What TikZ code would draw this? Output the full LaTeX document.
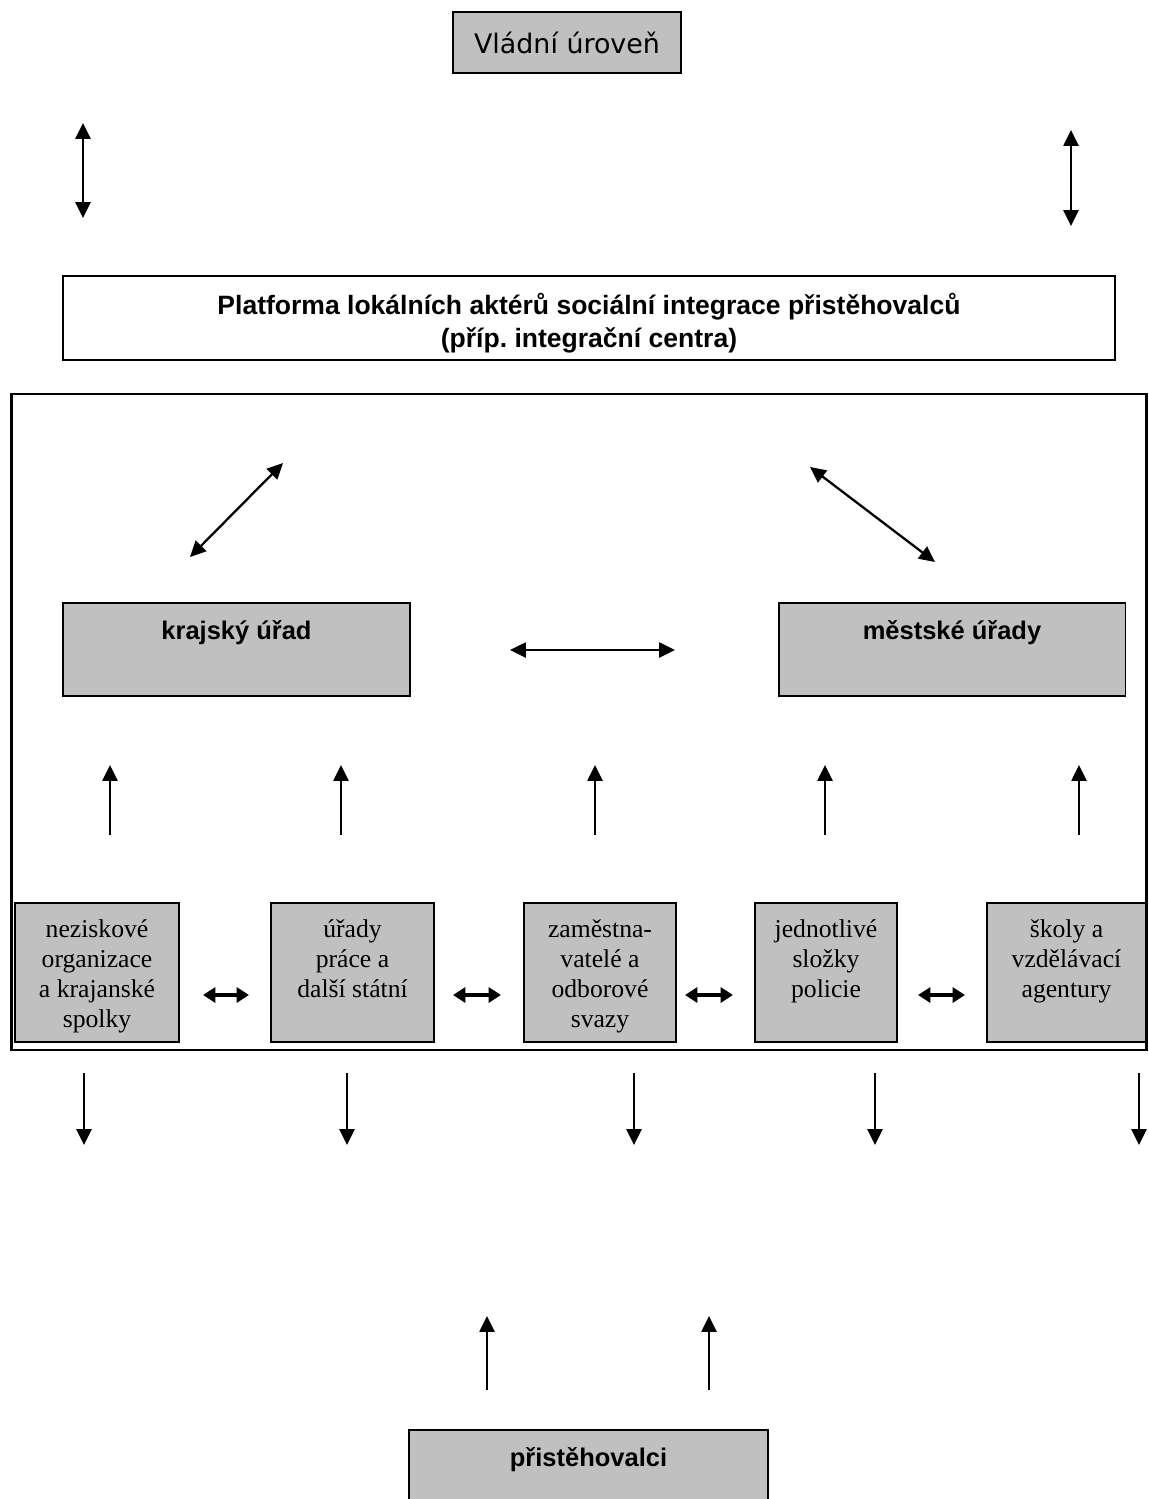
\documentclass[tikz,border=0pt]{standalone}
\usepackage{fontspec}
\setmainfont{Liberation Serif}
\newfontfamily\arialfont{Liberation Sans}
\newfontfamily\verdanafont{DejaVu Sans}
\usetikzlibrary{arrows.meta}
\definecolor{boxgray}{RGB}{192,192,192}
\def\graynode{\node[draw,fill=boxgray,line width=1.1pt]}

\begin{document}
\begin{tikzpicture}[x=0.02cm,y=-0.02cm,
  arr/.style={line width=1.3pt,-{Triangle[length=9pt,width=8.5pt]}},
  dbl/.style={line width=1.3pt,{Triangle[length=9pt,width=8.5pt]}-{Triangle[length=9pt,width=8.5pt]}},
  smalldbl/.style={line width=1.9pt,{Triangle[length=7pt,width=8.5pt]}-{Triangle[length=7pt,width=8.5pt]}},
  boldtop/.style={anchor=north,inner sep=0pt,yshift=-0.37cm,font=\arialfont\bfseries\fontsize{14.5}{17}\selectfont},
  actor/.style={anchor=north,inner sep=0pt,yshift=-0.34cm,align=center,font=\fontsize{14.6}{17.2}\selectfont}]
\useasboundingbox (0,0) rectangle (1149,1499);

% top level
\graynode[minimum width=4.56cm,minimum height=1.22cm,font=\verdanafont\fontsize{15.3}{18}\selectfont] (vlada) at (567,42.5) {Vládní úroveň};
\coordinate (vl1) at (83,123);
\coordinate (vl2) at (83,218);
\coordinate (vp1) at (1071,130);
\coordinate (vp2) at (1071,226);
\draw[dbl] (vl1) to (vl2);
\draw[dbl] (vp1) to (vp2);

\node[draw,line width=1.1pt,minimum width=21.04cm,minimum height=1.68cm,
  label={[align=center,yshift=-0.1cm,font=\arialfont\bfseries\fontsize{15.1}{18.7}\selectfont]center:{Platforma lokálních aktérů sociální integrace přistěhovalců\\(příp.\ integrační centra)}}] (platforma) at (589,318) {};

% regional frame
\node[draw,line width=1.6pt,minimum width=22.72cm,minimum height=13.12cm] (ramec) at (579,722) {};
\coordinate (dl1) at (190,557);
\coordinate (dl2) at (283,463);
\coordinate (dp1) at (810,467);
\coordinate (dp2) at (935,562);
\draw[dbl] (dl1) to (dl2);
\draw[dbl] (dp1) to (dp2);

\graynode[minimum width=6.94cm,minimum height=1.86cm,label={[boldtop]north:krajský úřad}] (kraj) at (236.5,649.5) {};
\graynode[minimum width=6.94cm,minimum height=1.86cm,label={[boldtop]north:městské úřady}] (mesta) at (952,649.5) {};
\coordinate (h1) at (510,650);
\coordinate (h2) at (675,650);
\draw[dbl] (h1) to (h2);

\coordinate (u1a) at (110,835);
\coordinate (u1b) at (110,765);
\coordinate (u2a) at (341,835);
\coordinate (u2b) at (341,765);
\coordinate (u3a) at (595,835);
\coordinate (u3b) at (595,765);
\coordinate (u4a) at (825,835);
\coordinate (u4b) at (825,765);
\coordinate (u5a) at (1079,835);
\coordinate (u5b) at (1079,765);
\draw[arr] (u1a) to (u1b);
\draw[arr] (u2a) to (u2b);
\draw[arr] (u3a) to (u3b);
\draw[arr] (u4a) to (u4b);
\draw[arr] (u5a) to (u5b);

% local actors
\graynode[minimum width=3.28cm,minimum height=2.78cm,label={[actor]north:{neziskové\\organizace\\a krajanské\\spolky}}] (neziskove) at (97,972.5) {};
\graynode[minimum width=3.26cm,minimum height=2.78cm,label={[actor]north:{úřady\\práce a\\další státní}}] (uradyprace) at (352.5,972.5) {};
\graynode[minimum width=3.04cm,minimum height=2.78cm,label={[actor]north:{zaměstna-\\vatelé a\\odborové\\svazy}}] (zamestnavatele) at (600,972.5) {};
\graynode[minimum width=2.84cm,minimum height=2.78cm,label={[actor]north:{jednotlivé\\složky\\policie}}] (policie) at (826,972.5) {};
\graynode[minimum width=3.18cm,minimum height=2.78cm,label={[actor]north:{školy a\\vzdělávací\\agentury}}] (skoly) at (1066.5,972.5) {};
\coordinate (s1a) at (203,995);
\coordinate (s1b) at (249,995);
\coordinate (s2a) at (453,995);
\coordinate (s2b) at (501,995);
\coordinate (s3a) at (685,995);
\coordinate (s3b) at (733,995);
\coordinate (s4a) at (918,995);
\coordinate (s4b) at (965,995);
\draw[smalldbl] (s1a) to (s1b);
\draw[smalldbl] (s2a) to (s2b);
\draw[smalldbl] (s3a) to (s3b);
\draw[smalldbl] (s4a) to (s4b);

% towards the immigrants
\coordinate (d1a) at (84,1073);
\coordinate (d1b) at (84,1145);
\coordinate (d2a) at (347,1073);
\coordinate (d2b) at (347,1145);
\coordinate (d3a) at (634,1073);
\coordinate (d3b) at (634,1145);
\coordinate (d4a) at (875,1073);
\coordinate (d4b) at (875,1145);
\coordinate (d5a) at (1139,1073);
\coordinate (d5b) at (1139,1145);
\draw[arr] (d1a) to (d1b);
\draw[arr] (d2a) to (d2b);
\draw[arr] (d3a) to (d3b);
\draw[arr] (d4a) to (d4b);
\draw[arr] (d5a) to (d5b);

\coordinate (p1a) at (487,1390);
\coordinate (p1b) at (487,1316);
\coordinate (p2a) at (709,1390);
\coordinate (p2b) at (709,1316);
\draw[arr] (p1a) to (p1b);
\draw[arr] (p2a) to (p2b);
\graynode[minimum width=7.18cm,minimum height=2cm,label={[boldtop]north:přistěhovalci}] (pristehovalci) at (588.5,1480) {};
\end{tikzpicture}
\end{document}
